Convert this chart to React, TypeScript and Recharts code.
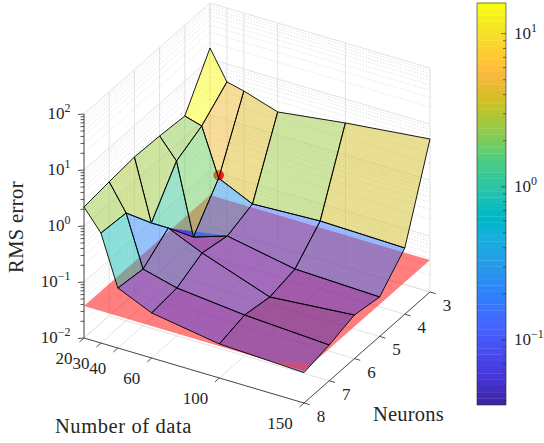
import React from 'react';
import { ScatterChart, Scatter, XAxis, YAxis } from 'recharts';

const W = 544, H = 443;
const dataCounts = [20, 30, 40, 60, 100, 150];
const neurons = [3, 4, 5, 6, 7, 8];
const errN3 = [15.7, 4.78, 4.05, 2.58, 3.73, 5.4];
const errN4 = [2.39, 1.95, 0.28, 0.146, 0.165, 0.152];
const errN5 = [2.62, 1.15, 0.062, 0.0975, 0.0571, 0.0506];
const errN6 = [2.75, 0.224, 0.224, 0.121, 0.045, 0.06];
const errN7 = [2.47, 0.84, 0.103, 0.0714, 0.0535, 0.0436];
const errN8 = [2.18, 0.92, 0.118, 0.0637, 0.0405, 0.0349];
const errors = [errN3, errN4, errN5, errN6, errN7, errN8];
const planeError = 0.0371;
const bestPoint = { d: 40, n: 4, err: 0.316 };
const zDecades = [-2, -1, 0, 1, 2];
const cbarDecades = [-1, 0, 1];
const minorFactors = [2, 3, 4, 5, 6, 7, 8, 9];
const cLogMin = -1.424, cLogMax = 1.2;

const parula = [[.2422,.1504,.6603],[.2504,.165,.7076],[.2578,.1818,.7511],[.2647,.1978,.7952],[.2706,.2147,.8364],[.2751,.2342,.871],[.2783,.2559,.8991],[.2803,.2782,.9221],[.2813,.3006,.9414],[.281,.3228,.9579],[.2795,.3447,.9717],[.276,.3667,.9829],[.2699,.3892,.9906],[.2602,.4123,.9952],[.244,.4358,.9988],[.2206,.4603,.9973],[.1963,.4847,.9892],[.1834,.5074,.9798],[.1786,.5289,.9682],[.1764,.5499,.952],[.1687,.5703,.9359],[.154,.5902,.9218],[.146,.6091,.9079],[.138,.6276,.8973],[.1248,.6459,.8883],[.1113,.6635,.8763],[.0952,.6798,.8598],[.0689,.6948,.8394],[.0297,.7082,.8163],[.0036,.7203,.7917],[.0067,.7312,.766],[.0433,.7411,.7394],[.0964,.75,.712],[.1408,.7584,.6842],[.1717,.767,.6554],[.1938,.7758,.6251],[.2161,.7843,.5923],[.247,.7918,.5567],[.2906,.7973,.5188],[.3406,.8008,.4789],[.3909,.8029,.4354],[.4456,.8024,.3909],[.5044,.7993,.348],[.5616,.7942,.3045],[.6174,.7876,.2612],[.672,.7793,.2227],[.7242,.7698,.191],[.7738,.7598,.1646],[.8203,.7498,.1535],[.8634,.7406,.1596],[.9035,.733,.1774],[.9393,.7288,.21],[.9728,.7298,.2394],[.9956,.7434,.2371],[.997,.7659,.2199],[.9952,.7893,.2028],[.9892,.8136,.1885],[.9786,.8386,.1766],[.9676,.8639,.1643],[.961,.889,.1537],[.9597,.9135,.1423],[.9628,.9373,.1265],[.9691,.9606,.1064],[.9769,.9839,.0805]];
const rgb = (c: number[]) => `rgb(${c.map((v) => Math.round(v * 255)).join(',')})`;
const colorOf = (err: number) => {
  const f = (Math.log10(err) - cLogMin) / (cLogMax - cLogMin);
  return rgb(parula[Math.max(0, Math.min(63, Math.floor(f * 64)))]);
};

// Orthographic projection of the 3-D axes box on to the page.
const O = { x: 84, y: 338 };
const projA = { x: 220, y: 65 }, projB = { x: 126, y: -111 }, decadePx = 56;
type Pt = { x: number; y: number };
const fa = (d: number) => (d - 20) / 130;
const fb = (n: number) => (8 - n) / 5;
const hOf = (err: number) => (Math.log10(err) + 2) * decadePx;
const proj = (a: number, b: number, h: number): Pt => ({
  x: O.x + a * projA.x + b * projB.x,
  y: O.y + a * projA.y + b * projB.y - h,
});

const INK = '#262626';
const item = (pts: Pt[], style: any) => ({ x: pts[0].x, y: pts[0].y, pts, ...style });
const txt = (x: number, y: number, text: string, o: any = {}) => ({ x, y, text, ...o });

const gridSolid = { stroke: '#e2e2e2', strokeWidth: 1 };
const gridDot = { stroke: '#d4d4d4', strokeWidth: 0.6, dash: '1.5 1.5' };
const grid: any[] = [];
const hTop = 4 * decadePx;
dataCounts.forEach((d) => {
  const a = fa(d);
  grid.push(item([proj(a, 0, 0), proj(a, 1, 0)], gridSolid));
  grid.push(item([proj(a, 1, 0), proj(a, 1, hTop)], gridSolid));
});
neurons.forEach((n) => {
  const b = fb(n);
  grid.push(item([proj(0, b, 0), proj(1, b, 0)], gridSolid));
  grid.push(item([proj(0, b, 0), proj(0, b, hTop)], gridSolid));
});
zDecades.forEach((k) => {
  const h = (k + 2) * decadePx;
  grid.push(item([proj(0, 0, h), proj(0, 1, h), proj(1, 1, h)], gridSolid));
  if (k < 2) minorFactors.forEach((m) => {
    const hm = h + Math.log10(m) * decadePx;
    grid.push(item([proj(0, 0, hm), proj(0, 1, hm), proj(1, 1, hm)], gridDot));
  });
});

// Surface cells, back to front, split where they dip below the red plane.
type V = { a: number; b: number; h: number };
const hPlane = hOf(planeError);
const clip = (poly: V[], keepAbove: boolean) => {
  const inside = (v: V) => (keepAbove ? v.h >= hPlane : v.h < hPlane);
  const out: V[] = [];
  poly.forEach((p, i) => {
    const q = poly[(i + 1) % poly.length];
    if (inside(p)) out.push(p);
    if (inside(p) !== inside(q)) {
      const t = (hPlane - p.h) / (q.h - p.h);
      out.push({ a: p.a + t * (q.a - p.a), b: p.b + t * (q.b - p.b), h: hPlane });
    }
  });
  return out;
};
const toPts = (vs: V[]) => vs.map((v) => proj(v.a, v.b, v.h));
// Is the first corner of this cell folded inwards on the page?
const firstCornerFolded = (pts: Pt[]) => {
  const turn = pts.map((_, i) => {
    const p = pts[(i + pts.length - 1) % pts.length], q = pts[i], r = pts[(i + 1) % pts.length];
    return Math.sign((q.x - p.x) * (r.y - q.y) - (q.y - p.y) * (r.x - q.x));
  });
  return turn[1] === turn[2] && turn[2] === turn[3] && turn[0] !== turn[1];
};
const belowCells: any[] = [], backCells: any[] = [], frontCells: any[] = [];
neurons.slice(0, -1).forEach((n, i) => {
  dataCounts.slice(0, -1).forEach((d, j) => {
    const v = (ii: number, jj: number): V => ({ a: fa(dataCounts[jj]), b: fb(neurons[ii]), h: hOf(errors[ii][jj]) });
    const quad = [v(i, j), v(i, j + 1), v(i + 1, j + 1), v(i + 1, j)];
    const fill = colorOf(errors[i][j]);
    const below = clip(quad, false);
    if (below.length > 2) belowCells.push(item(toPts(below), { fill, fillOpacity: 0.5 }));
    const target = (j === 1 && i < 2) || (j === 2 && i === 1) ? frontCells : backCells;
    const above = clip(quad, true);
    if (above.length === 4 && below.length === 0 && firstCornerFolded(toPts(quad))) {
      // The folded cell is two triangles that overlap on the page.
      target.push(item(toPts([quad[1], quad[2], quad[3]]), { fill, fillOpacity: 0.5 }));
      target.push(item(toPts([quad[0], quad[1], quad[3]]), { fill, fillOpacity: 0.8 }));
    } else if (above.length > 2) {
      target.push(item(toPts(above), { fill, fillOpacity: 0.5 }));
    }
    target.push(item(toPts(quad), { stroke: '#000', strokeWidth: 0.9, closed: true }));
  });
});
const planeCell = [item([proj(0, 0, hPlane), proj(0, 1, hPlane), proj(1, 1, hPlane), proj(1, 0, hPlane)], { fill: '#ff0000', fillOpacity: 0.5 })];
const best = [{ ...proj(fa(bestPoint.d), fb(bestPoint.n), hOf(bestPoint.err)) }];

// Axes
const axisStyle = { stroke: INK, strokeWidth: 0.8 };
const axes: any[] = [];
axes.push(item([proj(0, 0, 0), proj(0, 0, hTop)], axisStyle));
axes.push(item([proj(0, 0, 0), proj(1, 0, 0)], axisStyle));
axes.push(item([proj(1, 0, 0), proj(1, 1, 0)], axisStyle));
zDecades.forEach((k) => {
  const h = (k + 2) * decadePx;
  const p = proj(0, 0, h);
  axes.push(item([p, { x: p.x - 6, y: p.y + 0.5 }], axisStyle));
  if (k < 2) minorFactors.forEach((m) => {
    const q = proj(0, 0, h + Math.log10(m) * decadePx);
    axes.push(item([q, { x: q.x - 3.5, y: q.y + 0.3 }], axisStyle));
  });
});
dataCounts.forEach((d) => {
  const p = proj(fa(d), 0, 0);
  axes.push(item([p, { x: p.x - 4.5, y: p.y + 4 }], axisStyle));
});
neurons.forEach((n) => {
  const p = proj(1, fb(n), 0);
  axes.push(item([p, { x: p.x + 5.8, y: p.y + 1.7 }], axisStyle));
});

// Colour bar
const cb = { left: 477, right: 506, top: 3, bottom: 405 };
const cbY = (lg: number) => cb.bottom - ((lg - cLogMin) / (cLogMax - cLogMin)) * (cb.bottom - cb.top);
const cbar: any[] = parula.map((c, i) => {
  const step = (cb.bottom - cb.top) / 64;
  const y1 = cb.bottom - i * step, y0 = y1 - step - 0.3;
  return item([{ x: cb.left, y: y0 }, { x: cb.right, y: y0 }, { x: cb.right, y: y1 }, { x: cb.left, y: y1 }], { fill: rgb(c) });
});
const cbFrame = { stroke: INK, strokeWidth: 0.6 };
cbar.push(item([{ x: cb.left, y: cb.top }, { x: cb.right, y: cb.top }, { x: cb.right, y: cb.bottom }, { x: cb.left, y: cb.bottom }], { ...cbFrame, closed: true }));
[-2, ...cbarDecades].forEach((k) => {
  if (k >= -1) {
    const y = cbY(k);
    cbar.push(item([{ x: cb.right - 5, y }, { x: cb.right, y }], cbFrame));
  }
  minorFactors.forEach((m) => {
    const lg = k + Math.log10(m);
    if (lg > cLogMin && lg < cLogMax) {
      const y = cbY(lg);
      cbar.push(item([{ x: cb.right - 3, y }, { x: cb.right, y }], cbFrame));
    }
  });
});

// Text
const texts: any[] = [];
zDecades.forEach((k) => {
  const p = proj(0, 0, (k + 2) * decadePx);
  texts.push(txt(70.5, p.y + 4.5, '10', { sup: String(k).replace('-', '\u2212'), anchor: 'end' }));
});
dataCounts.forEach((d) => {
  const p = proj(fa(d), 0, 0);
  texts.push(txt(p.x - (d >= 100 ? 24 : 20), p.y + 26, String(d), { anchor: 'middle' }));
});
neurons.forEach((n) => {
  const p = proj(1, fb(n), 0);
  texts.push(txt(p.x + 17, p.y + 19, String(n), { anchor: 'middle' }));
});
cbarDecades.forEach((k) => {
  texts.push(txt(514, cbY(k) + 5, '10', { sup: String(k).replace('-', '\u2212'), anchor: 'start' }));
});
texts.push(txt(23, 227, 'RMS error', { anchor: 'middle', rotate: -90, size: 20.5, spacing: 0.4 }));
texts.push(txt(123.5, 433, 'Number of data', { anchor: 'middle', size: 20.5, spacing: 0.6 }));
texts.push(txt(408.5, 420.5, 'Neurons', { anchor: 'middle', size: 20.5, spacing: 0.2 }));

const PolyShape = (props: any) => {
  const { cx, cy, payload: p } = props;
  const dx = cx - p.x, dy = cy - p.y;
  const pts = p.pts.map((q: Pt) => `${q.x + dx},${q.y + dy}`).join(' ');
  const Tag: any = p.fill || p.closed ? 'polygon' : 'polyline';
  return (
    <Tag
      points={pts}
      fill={p.fill || 'none'}
      fillOpacity={p.fillOpacity}
      stroke={p.stroke || 'none'}
      strokeWidth={p.strokeWidth}
      strokeDasharray={p.dash}
      strokeLinejoin="round"
    />
  );
};
const TextShape = (props: any) => {
  const { cx, cy, payload: p } = props;
  const size = p.size || 17;
  return (
    <text
      x={cx}
      y={cy}
      textAnchor={p.anchor}
      fontFamily="'Liberation Serif', serif"
      fontSize={size}
      letterSpacing={p.spacing}
      fill={INK}
      transform={p.rotate ? `rotate(${p.rotate} ${cx} ${cy})` : undefined}
    >
      {p.text}
      {p.sup ? <tspan dy={-7} fontSize={12}>{p.sup}</tspan> : null}
    </text>
  );
};
const DotShape = (props: any) => <circle cx={props.cx} cy={props.cy} r={5.3} fill="#f01c14" />;

const layer = (data: any[], shape: any, key: string) => (
  <Scatter key={key} data={data} shape={shape} isAnimationActive={false} legendType="none" />
);

export default function App() {
  return (
    <div style={{ position: 'absolute', left: 0, top: 0, width: W, height: H, background: '#fff' }}>
      <ScatterChart width={W} height={H} margin={{ top: 0, right: 0, bottom: 0, left: 0 }}>
        <XAxis type="number" dataKey="x" domain={[0, W]} hide />
        <YAxis type="number" dataKey="y" domain={[0, H]} reversed hide />
        {layer(grid, PolyShape, 'grid')}
        {layer(belowCells, PolyShape, 'below')}
        {layer(planeCell, PolyShape, 'plane')}
        {layer(backCells, PolyShape, 'back')}
        {layer(best, DotShape, 'best')}
        {layer(frontCells, PolyShape, 'front')}
        {layer(axes, PolyShape, 'axes')}
        {layer(cbar, PolyShape, 'cbar')}
        {layer(texts, TextShape, 'text')}
      </ScatterChart>
    </div>
  );
}
